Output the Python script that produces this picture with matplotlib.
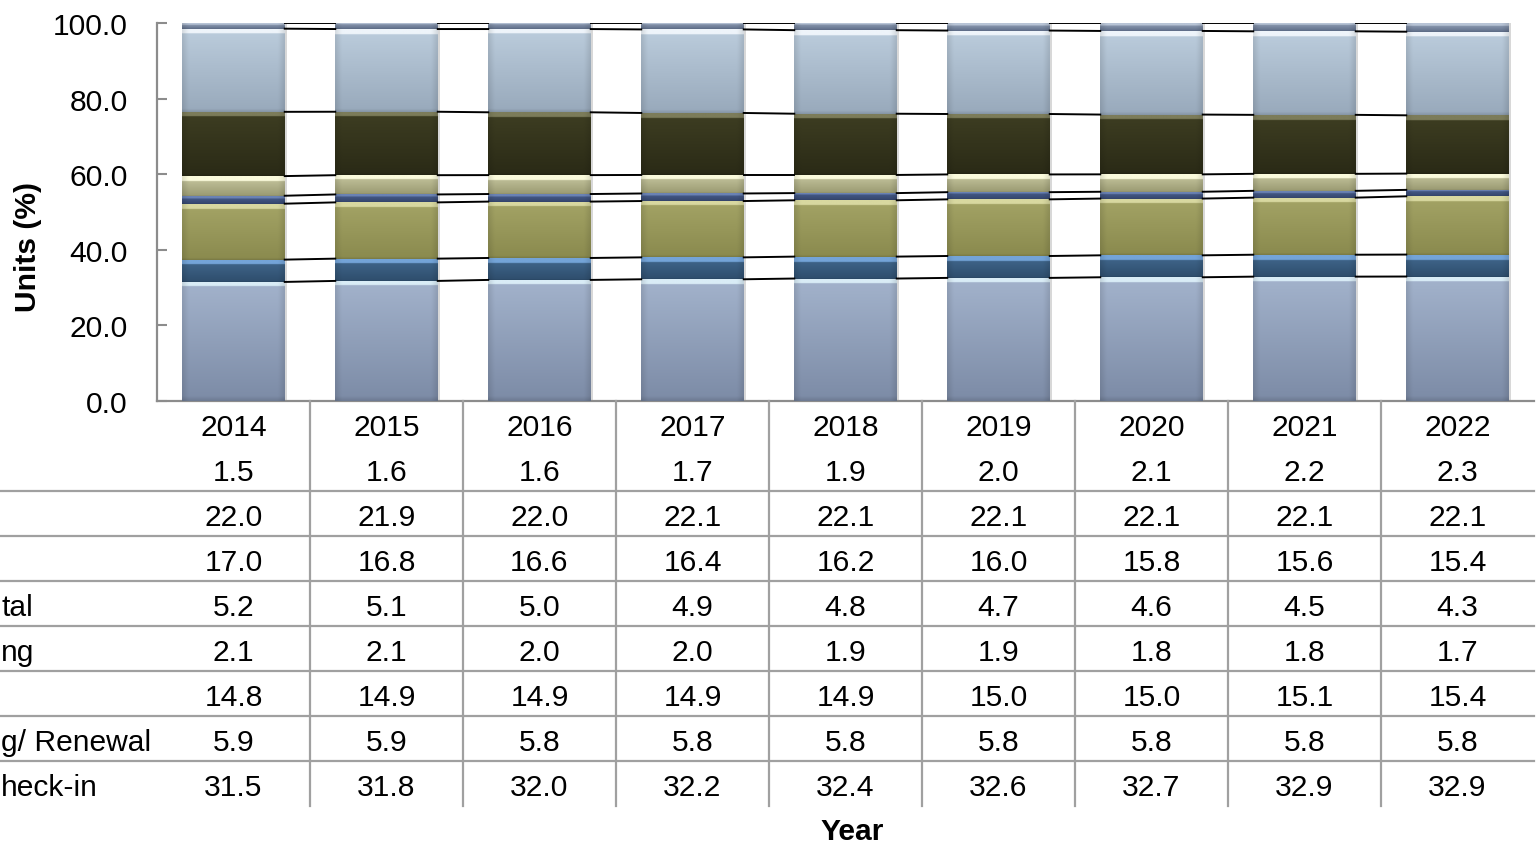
import numpy as np
import matplotlib.pyplot as plt
from matplotlib.colors import to_rgb
from matplotlib.transforms import blended_transform_factory

plt.rcParams['font.family'] = ['Liberation Sans', 'DejaVu Sans']

years = ['2014', '2015', '2016', '2017', '2018', '2019', '2020', '2021', '2022']

# shares per year, listed from the bottom of the stack upwards
seg_1 = [31.5, 31.8, 32.0, 32.2, 32.4, 32.6, 32.7, 32.9, 32.9]
seg_2 = [5.9, 5.9, 5.8, 5.8, 5.8, 5.8, 5.8, 5.8, 5.8]
seg_3 = [14.8, 14.9, 14.9, 14.9, 14.9, 15.0, 15.0, 15.1, 15.4]
seg_4 = [2.1, 2.1, 2.0, 2.0, 1.9, 1.9, 1.8, 1.8, 1.7]
seg_5 = [5.2, 5.1, 5.0, 4.9, 4.8, 4.7, 4.6, 4.5, 4.3]
seg_6 = [17.0, 16.8, 16.6, 16.4, 16.2, 16.0, 15.8, 15.6, 15.4]
seg_7 = [22.0, 21.9, 22.0, 22.1, 22.1, 22.1, 22.1, 22.1, 22.1]
seg_8 = [1.5, 1.6, 1.6, 1.7, 1.9, 2.0, 2.1, 2.2, 2.3]
segments = [seg_1, seg_2, seg_3, seg_4, seg_5, seg_6, seg_7, seg_8]

# visible ends of the row headers of the data table (top row first)
row_tails = ['', '', '', 'tal', 'ng', '', 'g/ Renewal', 'heck-in']

# (highlight, body top, body bottom) for each segment, bottom upwards
shades = [
    ('#d9ecf6', '#a3b3cc', '#7c8ba6'),
    ('#74a4d8', '#42698f', '#2e4d6c'),
    ('#d8d8a0', '#a4a466', '#8a8a4e'),
    ('#6a82b4', '#4a6090', '#34456c'),
    ('#fbfbdc', '#c9c9a2', '#9a9a72'),
    ('#7c7c5a', '#3e3e22', '#2a2a16'),
    ('#eef4fa', '#bccddd', '#98a9bb'),
    ('#b8c4d6', '#98a6bc', '#5e6d88'),
]

FS = 21.6
W, H = 1537, 845
fig = plt.figure(figsize=(W / 100, H / 100), dpi=100)

ax_left, ax_right = 157 / W, 1534 / W
ax = fig.add_axes([ax_left, 1 - 402 / H, ax_right - ax_left, (402 - 24) / H])

x = np.arange(len(years))
bar_w = 0.67
values = np.array(segments, dtype=float)
values = values / values.sum(axis=0) * 100.0
bottoms = np.vstack([np.zeros(len(years)), np.cumsum(values, axis=0)[:-1]])
tops = bottoms + values


def segment_image(shade, height, ny=240, nx=60):
    hi, top, bot = (np.array(to_rgb(c)) for c in shade)
    t = np.linspace(1, 0, ny)[:, None]            # 1 at the top edge
    body = bot + (top - bot) * t                  # (ny, 3)
    band = min(0.3, 1.3 / max(height, 0.1))       # highlight strip at the top
    col = np.where((1 - t) < band, hi, body)      # (ny, 3)
    img = np.repeat(col[:, None, :], nx, axis=1)  # (ny, nx, 3)
    # darker bevel on the sides and the lower edge
    u = np.linspace(0, 1, nx)
    side = 1 - 0.10 * np.clip(1 - np.minimum(u, 1 - u) / 0.06, 0, 1)
    low = 1 - 0.12 * np.clip(1 - t[:, 0] / 0.04, 0, 1)
    img = img * side[None, :, None] * low[:, None, None]
    return np.clip(img, 0, 1)


for k, vals in enumerate(values):
    bars = ax.bar(x, vals, bar_w, bottom=bottoms[k], color=shades[k][1],
                  linewidth=0, zorder=2)
    for b, v in zip(bars, vals):
        bx, by = b.get_x(), b.get_y()
        im = ax.imshow(segment_image(shades[k], v), origin='upper',
                       extent=[bx, bx + b.get_width(), by, by + v],
                       aspect='auto', interpolation='bilinear', zorder=3)
        im.set_clip_path(b)
    # light shadow on the right of each bar
    ax.bar(x + 0.012, vals, bar_w, bottom=bottoms[k], color='#d8d8d8',
           linewidth=0, zorder=1)

# series lines joining the segment tops of neighbouring bars
for k in range(len(values)):
    for i in range(len(years) - 1):
        ax.plot([x[i] + bar_w / 2, x[i + 1] - bar_w / 2],
                [tops[k][i], tops[k][i + 1]], color='black', lw=1.4, zorder=4)

ax.set_xlim(-0.5, len(years) - 0.5)
ax.set_ylim(0, 100)
ax.set_yticks(np.arange(0, 101, 20))
ax.set_yticklabels([f'{v:.1f}' for v in np.arange(0, 101, 20)], fontsize=FS)
ax.set_xticks([])
ax.tick_params(axis='y', direction='in', length=7, width=1.5, color='#8c8c8c', pad=21)
for side in ['top', 'right']:
    ax.spines[side].set_visible(False)
for side in ['left', 'bottom']:
    ax.spines[side].set_color('#8c8c8c')
    ax.spines[side].set_linewidth(1.6)

# data table beneath the plot
n_rows = len(segments) + 1
tax = fig.add_axes([ax_left, 1 - 807 / H, ax_right - ax_left, 405 / H])
tax.set_xlim(-0.5, len(years) - 0.5)
tax.set_ylim(n_rows, 0)
tax.axis('off')

dy = 0.07
for i, yr in enumerate(years):
    tax.text(i, 0.5 + dy, yr, ha='center', va='center', fontsize=FS)
for r in range(len(segments)):
    k = len(segments) - 1 - r
    for i in range(len(years)):
        tax.text(i, r + 1.5 + dy, f'{segments[k][i]:.1f}', ha='center', va='center',
                 fontsize=FS)

fig_x = blended_transform_factory(fig.transFigure, tax.transData)
for r in range(2, n_rows):
    tax.plot([0, ax_right], [r, r], color='#a0a0a0', lw=1.6, transform=fig_x, clip_on=False)
for i in range(len(years) - 1):
    tax.plot([i + 0.5, i + 0.5], [0, n_rows], color='#a0a0a0', lw=1.6, clip_on=False)

for r, tail in enumerate(row_tails):
    if tail:
        tax.text(1 / W, r + 1.5 + dy, tail, ha='left', va='center', fontsize=FS,
                 transform=fig_x)

fig.text(28 / W, 1 - 247 / H, 'Units (%)', rotation=90, ha='center', va='center',
         fontsize=FS, fontweight='bold')
fig.text(852 / W, 1 - 832 / H, 'Year', ha='center', va='center',
         fontsize=FS, fontweight='bold')

fig.savefig('out.png', dpi=100, facecolor='white')
